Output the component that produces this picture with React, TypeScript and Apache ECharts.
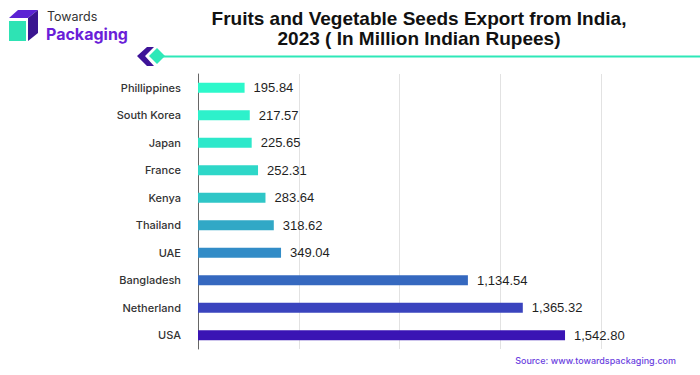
import React, { useEffect, useRef } from "react";
import * as echarts from "echarts";

const categories = [
  "Phillippines",
  "South Korea",
  "Japan",
  "France",
  "Kenya",
  "Thailand",
  "UAE",
  "Bangladesh",
  "Netherland",
  "USA",
];
const values = [195.84, 217.57, 225.65, 252.31, 283.64, 318.62, 349.04, 1134.54, 1365.32, 1542.8];
const barColors = [
  "#2DF8CB",
  "#2DF1CB",
  "#2DE8CA",
  "#2ED7C8",
  "#2FC6C7",
  "#31A8C6",
  "#328CC7",
  "#3568BF",
  "#3A44BE",
  "#3A14B4",
];
const titleText = "Fruits and Vegetable Seeds Export from India,\n2023 ( In Million Indian Rupees)";
const sourceText = "Source: www.towardspackaging.com";

const FONT = "Inter, Roboto, 'Noto Sans', sans-serif";
const TITLE_FONT = "'Liberation Sans', Arial, sans-serif";

export default function App() {
  const ref = useRef<HTMLDivElement>(null);
  useEffect(() => {
    if (!ref.current) return;
    const chart = echarts.init(ref.current, undefined, { renderer: "svg" });
    const axisMax = 1694;
    chart.setOption({
      animation: false,
      backgroundColor: "#ffffff",
      textStyle: { fontFamily: FONT },
      grid: { left: 198, right: 99, top: 74, bottom: 26, containLabel: false },
      xAxis: {
        type: "value",
        min: 0,
        max: axisMax,
        interval: axisMax / 4,
        axisLabel: { show: false },
        axisTick: { show: false },
        axisLine: { show: false },
        splitLine: { show: true, lineStyle: { color: "#e2e2e2", width: 1 } },
      },
      yAxis: {
        type: "category",
        data: categories,
        inverse: true,
        axisTick: { show: false },
        axisLine: { show: true, lineStyle: { color: "#666666", width: 1 } },
        axisLabel: {
          margin: 17,
          fontSize: 11,
          fontWeight: 500,
          color: "#333333",
          fontFamily: FONT,
        },
      },
      series: [
        {
          type: "bar",
          barWidth: 10,
          data: values.map((v, i) => ({
            value: v,
            itemStyle: { color: barColors[i] },
          })),
          label: {
            show: true,
            position: "right",
            distance: 9,
            fontSize: 13,
            color: "#1f1f1f",
            fontFamily: TITLE_FONT,
            formatter: (p: any) =>
              Number(p.value).toLocaleString("en-US", {
                minimumFractionDigits: 2,
                maximumFractionDigits: 2,
              }),
          },
        },
      ],
      graphic: [
        // logo cube
        {
          type: "polygon",
          shape: { points: [[9, 18], [18, 10], [38, 10], [28, 18]] },
          style: { fill: "#5B22D4" },
        },
        {
          type: "polygon",
          shape: { points: [[28, 18], [38, 10], [38, 33], [28, 41]] },
          style: { fill: "#3A1590" },
        },
        {
          type: "rect",
          shape: { x: 9, y: 21, width: 17, height: 20 },
          style: { fill: "#2EE3B4" },
        },
        {
          type: "text",
          x: 47,
          y: 10,
          style: { text: "Towards", fontSize: 12.5, fill: "#333333", fontFamily: FONT },
        },
        {
          type: "text",
          x: 46,
          y: 26,
          style: {
            text: "Packaging",
            fontSize: 16,
            fontWeight: "bold",
            fill: "#6A1ED8",
            fontFamily: FONT,
          },
        },
        // title
        {
          type: "text",
          x: 419,
          y: 8,
          style: {
            text: titleText,
            fontSize: 19,
            fontWeight: "bold",
            fill: "#111111",
            fontFamily: TITLE_FONT,
            align: "center",
            lineHeight: 20,
          },
        },
        // chevron + line
        {
          type: "polygon",
          shape: { points: [[137, 56], [147, 47], [154, 47], [145, 56], [154, 66], [147, 66]] },
          style: { fill: "#3E1398" },
        },
        {
          type: "polygon",
          shape: { points: [[149, 56], [157, 48], [165, 56], [157, 64]] },
          style: { fill: "#2EE8B8" },
        },
        {
          type: "line",
          shape: { x1: 163, y1: 56.5, x2: 700, y2: 56.5 },
          style: { stroke: "#2EE8B8", lineWidth: 2 },
        },
        // source
        {
          type: "text",
          right: 24,
          top: 356,
          style: {
            text: sourceText,
            fontSize: 9,
            fontWeight: 500,
            fill: "#6B3FE0",
            fontFamily: FONT,
          },
        },
      ],
    });
    return () => chart.dispose();
  }, []);
  return (
    <div
      ref={ref}
      style={{ position: "fixed", left: 0, top: 0, width: 700, height: 375 }}
    />
  );
}
